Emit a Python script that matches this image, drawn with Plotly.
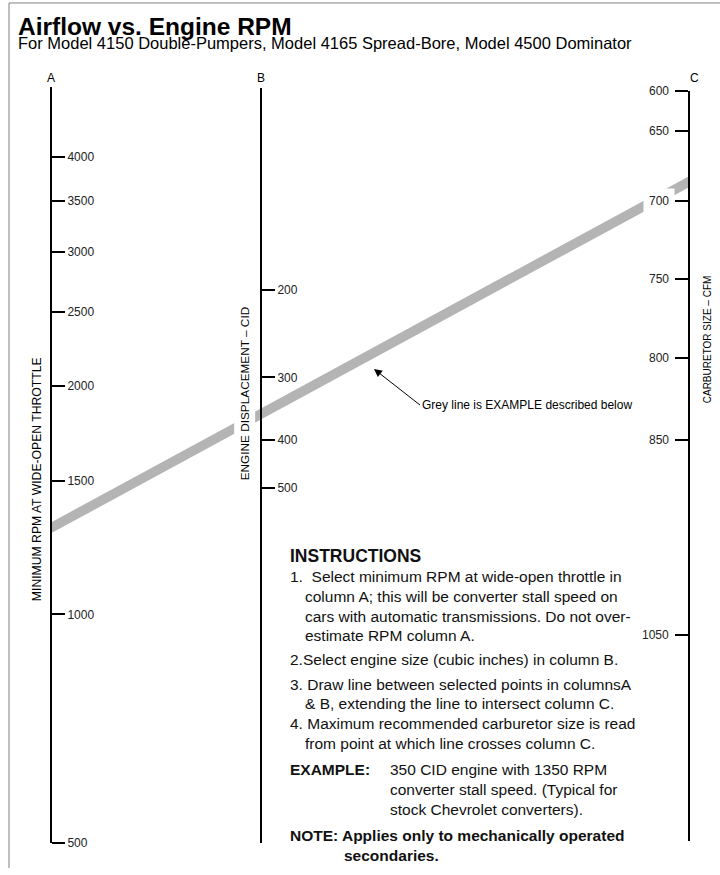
import math
import plotly.graph_objects as go

# ---------------- data ----------------
a_ticks = [500, 1000, 1500, 2000, 2500, 3000, 3500, 4000]      # column A: minimum RPM at wide-open throttle
b_ticks = [200, 300, 400, 500]                                  # column B: engine displacement (CID)
c_ticks = [600, 650, 700, 750, 800, 850, 1050]                  # column C: carburetor size (CFM)
c_scale = [0.0, 0.0525, 0.1464, 0.2509, 0.3558, 0.4647, 0.7249]  # position of each C mark along its scale (0 = top, 1 = bottom)
example_rpm = 1300   # where the grey example line crosses column A
example_cid = 355    # where the grey example line crosses column B

title_text = "Airflow vs. Engine RPM"
subtitle_text = "For Model 4150 Double-Pumpers, Model 4165 Spread-Bore, Model 4500 Dominator"
a_title = "MINIMUM RPM AT WIDE-OPEN THROTTLE"
b_title = "ENGINE DISPLACEMENT – CID"
c_title = "CARBURETOR SIZE – CFM"
arrow_text = "Grey line is EXAMPLE described below"

instructions = [
    ("<b>INSTRUCTIONS</b>", 0, 560, 17.5),
    ("1.  Select minimum RPM at wide-open throttle in", 0, 581, 15.5),
    ("column A; this will be converter stall speed on", 15, 601, 15.5),
    ("cars with automatic transmissions. Do not over-", 15, 621, 15.5),
    ("estimate RPM column A.", 15, 641, 15.5),
    ("2.Select engine size (cubic inches) in column B.", 0, 665, 15.5),
    ("3. Draw line between selected points in columnsA", 0, 690, 15.5),
    ("& B, extending the line to intersect column C.", 15, 709, 15.5),
    ("4. Maximum recommended carburetor size is read", 0, 729, 15.5),
    ("from point at which line crosses column C.", 15, 749, 15.5),
    ("<b>EXAMPLE:</b>", 0, 776, 15.5),
    ("350 CID engine with 1350 RPM", 100, 776, 15.5),
    ("converter stall speed. (Typical for", 100, 796, 15.5),
    ("stock Chevrolet converters).", 100, 816, 15.5),
    ("<b>NOTE: Applies only to mechanically operated</b>", 0, 842, 15.5),
    ("<b>secondaries.</b>", 54, 862, 15.5),
]

# ---------------- layout constants ----------------
W, H = 720, 875
FONT = "Liberation Sans, Arial, Helvetica, sans-serif"
A_X, B_X, C_X = 51, 261, 689
A_TOP, A_BOT = 88, 850
B_TOP, B_BOT = 89, 850
C_TOP, C_BOT = 92, 848
A_RANGE = [math.log10(500), 3.6937]
B_RANGE = [3.41126, 1.89713]
C_RANGE = [1, 0]
BAND_HALF = 5.5
GREY = "#b4b4b4"


def dom(top, bot):
    return [1 - bot / H, 1 - top / H]


def px_from_u(u, rng, top, bot):
    frac = (u - rng[0]) / (rng[1] - rng[0])
    return bot - frac * (bot - top)


def u_from_px(p, rng, top, bot):
    frac = (bot - p) / (bot - top)
    return rng[0] + frac * (rng[1] - rng[0])


# example line through the scales
pA = px_from_u(math.log10(example_rpm), A_RANGE, A_TOP, A_BOT)
pB = px_from_u(math.log10(example_cid), B_RANGE, B_TOP, B_BOT)
pC = pA + (pB - pA) * (C_X - A_X) / (B_X - A_X)
band_x = [A_X, C_X, C_X, A_X, A_X]
band_px = [pA - BAND_HALF, pC - BAND_HALF, pC + BAND_HALF, pA + BAND_HALF, pA - BAND_HALF]
band_y = [10 ** u_from_px(p, A_RANGE, A_TOP, A_BOT) for p in band_px]

fig = go.Figure()
fig.add_trace(go.Scatter(x=band_x, y=band_y, xaxis="x", yaxis="y", mode="lines",
                         fill="toself", fillcolor=GREY, line=dict(width=0, color=GREY),
                         hoverinfo="skip", showlegend=False))
fig.add_trace(go.Scatter(x=[None], y=[None], xaxis="x2", yaxis="y2", hoverinfo="skip", showlegend=False))
fig.add_trace(go.Scatter(x=[None], y=[None], xaxis="x3", yaxis="y3", hoverinfo="skip", showlegend=False))

axis_common = dict(showline=True, linecolor="black", linewidth=2, ticks="outside", ticklen=13,
                   tickwidth=2, tickcolor="black", showgrid=False, zeroline=False, fixedrange=True,
                   tickfont=dict(family=FONT, size=12, color="#222"), anchor="free")
xcommon = dict(range=[0, W], visible=False, fixedrange=True, domain=[0, 1])

fig.update_layout(
    width=W, height=H, margin=dict(l=0, r=0, t=0, b=0),
    paper_bgcolor="white", plot_bgcolor="rgba(0,0,0,0)", showlegend=False,
    xaxis=dict(**xcommon, anchor="y"),
    xaxis2=dict(**xcommon, anchor="y2"),
    xaxis3=dict(**xcommon, anchor="y3"),
    yaxis=dict(**axis_common, type="log", range=A_RANGE, domain=dom(A_TOP, A_BOT),
               position=A_X / W, side="right", tickvals=a_ticks, ticktext=[str(v) for v in a_ticks]),
    yaxis2=dict(**axis_common, type="log", range=B_RANGE, domain=dom(B_TOP, B_BOT),
                position=B_X / W, side="right", tickvals=b_ticks, ticktext=[str(v) for v in b_ticks]),
    yaxis3=dict(**axis_common, type="linear", range=C_RANGE, domain=dom(C_TOP, C_BOT),
                position=C_X / W, side="left", tickvals=c_scale, showticklabels=False),
)

ann = []
# titles
ann.append(dict(text=f"<b>{title_text}</b>", x=16 / W, y=1 - 26.5 / H, xref="paper", yref="paper",
                xanchor="left", yanchor="middle", showarrow=False,
                font=dict(family=FONT, size=24.5, color="black")))
ann.append(dict(text=subtitle_text, x=16 / W, y=1 - 43.5 / H, xref="paper", yref="paper",
                xanchor="left", yanchor="middle", showarrow=False,
                font=dict(family=FONT, size=16.5, color="black")))
# column letters
for letter, lx in (("A", A_X), ("B", B_X), ("C", 694)):
    ann.append(dict(text=letter, x=lx / W, y=1 - 79 / H, xref="paper", yref="paper",
                    xanchor="center", yanchor="middle", showarrow=False,
                    font=dict(family=FONT, size=12, color="black")))
# scale titles
ann.append(dict(text=a_title, x=37 / W, y=1 - 483 / H, xref="paper", yref="paper", textangle=-90,
                xanchor="center", yanchor="middle", showarrow=False,
                font=dict(family=FONT, size=12.2, color="black")))
ann.append(dict(text=b_title, x=244.5 / W, y=1 - 397 / H, xref="paper", yref="paper", textangle=-90,
                xanchor="center", yanchor="middle", showarrow=False, bgcolor="white", borderpad=3,
                font=dict(family=FONT, size=11.8, color="black")))
ann.append(dict(text=c_title, x=707.5 / W, y=1 - 342.5 / H, xref="paper", yref="paper", textangle=-90,
                xanchor="center", yanchor="middle", showarrow=False,
                font=dict(family=FONT, size=10, color="black")))
# column C labels
for v, s in zip(c_ticks, c_scale):
    ann.append(dict(text=str(v), x=C_X / W, y=s, xref="paper", yref="y3", xanchor="right",
                    yanchor="middle", xshift=-14, showarrow=False, bgcolor="white", borderpad=5,
                    font=dict(family=FONT, size=12, color="#222")))
# arrow to example line
ann.append(dict(text=arrow_text, x=374 / W, y=1 - 372 / H, xref="paper", yref="paper",
                ax=46, ay=36, xanchor="left", yanchor="middle", showarrow=True,
                arrowhead=2, arrowsize=1.6, arrowwidth=1, arrowcolor="black",
                font=dict(family=FONT, size=12, color="black")))
# instructions
for text, indent, yc, size in instructions:
    ann.append(dict(text=text, x=(288 + indent) / W, y=1 - yc / H, xref="paper", yref="paper",
                    xanchor="left", yanchor="middle", showarrow=False,
                    font=dict(family=FONT, size=size, color="#111")))
fig.update_layout(annotations=ann)

# page frame (top and left edges)
fig.add_shape(type="line", xref="paper", yref="paper", x0=9 / W, x1=1, y0=1 - 3 / H, y1=1 - 3 / H,
              line=dict(color="#808080", width=1), layer="below")
fig.add_shape(type="line", xref="paper", yref="paper", x0=9 / W, x1=9 / W, y0=0, y1=1 - 3 / H,
              line=dict(color="#808080", width=1), layer="below")

fig.write_html(
    "out.html",
    config={"displayModeBar": False, "staticPlot": True},
    post_script=("document.documentElement.style.margin='0';"
                 "document.documentElement.style.overflow='hidden';"
                 "document.body.style.margin='0';"
                 "document.body.style.overflow='hidden';"),
)
